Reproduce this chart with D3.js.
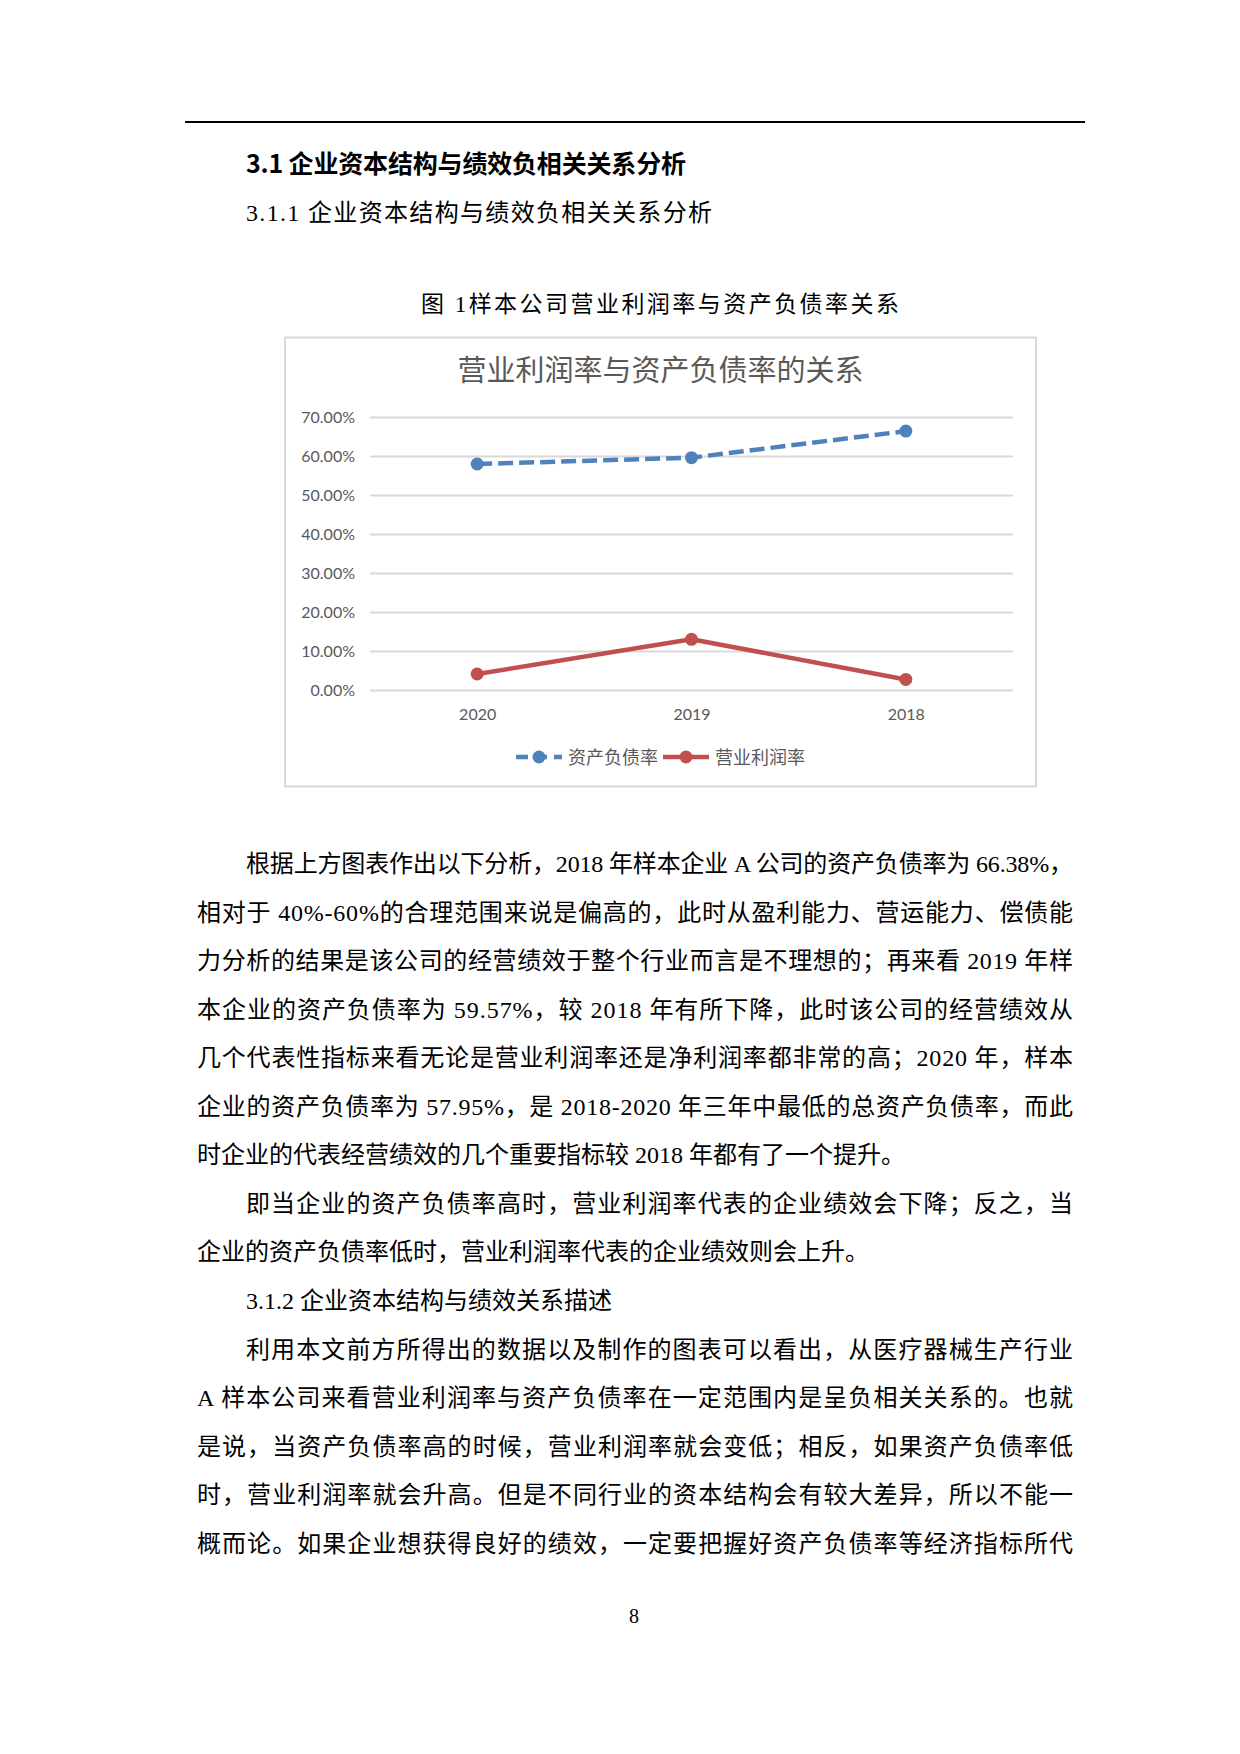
<!DOCTYPE html>
<html>
<head>
<meta charset="utf-8">
<script src="https://cdn.jsdelivr.net/npm/d3@7"></script>
<style>
  body { margin: 0; background: #fff; }
  svg { display: block; }
</style>
</head>
<body>
<div id="page"></div>
<script>
// chart data
const years = ["2020", "2019", "2018"];
const debtRatio = [0.5795, 0.5957, 0.6638];     // 资产负债率
const profitRatio = [0.041, 0.130, 0.027];      // 营业利润率
const seriesNames = ["资产负债率", "营业利润率"];
const yTicks = [0, 0.1, 0.2, 0.3, 0.4, 0.5, 0.6, 0.7];

const chartTitle = "营业利润率与资产负债率的关系";
const figCaption = "图  1样本公司营业利润率与资产负债率关系";

// page text lines: [text, indented, justified]
const bodyLines = [
  ["根据上方图表作出以下分析，2018 年样本企业 A 公司的资产负债率为 66.38%，", true, true],
  ["相对于 40%-60%的合理范围来说是偏高的，此时从盈利能力、营运能力、偿债能", false, true],
  ["力分析的结果是该公司的经营绩效于整个行业而言是不理想的；再来看 2019 年样", false, true],
  ["本企业的资产负债率为 59.57%，较 2018 年有所下降，此时该公司的经营绩效从", false, true],
  ["几个代表性指标来看无论是营业利润率还是净利润率都非常的高；2020 年，样本", false, true],
  ["企业的资产负债率为 57.95%，是 2018-2020 年三年中最低的总资产负债率，而此", false, true],
  ["时企业的代表经营绩效的几个重要指标较 2018 年都有了一个提升。", false, false],
  ["即当企业的资产负债率高时，营业利润率代表的企业绩效会下降；反之，当", true, true],
  ["企业的资产负债率低时，营业利润率代表的企业绩效则会上升。", false, false],
  ["3.1.2 企业资本结构与绩效关系描述", true, false],
  ["利用本文前方所得出的数据以及制作的图表可以看出，从医疗器械生产行业", true, true],
  ["A 样本公司来看营业利润率与资产负债率在一定范围内是呈负相关关系的。也就", false, true],
  ["是说，当资产负债率高的时候，营业利润率就会变低；相反，如果资产负债率低", false, true],
  ["时，营业利润率就会升高。但是不同行业的资本结构会有较大差异，所以不能一", false, true],
  ["概而论。如果企业想获得良好的绩效，一定要把握好资产负债率等经济指标所代", false, true]
];

const W = 1240, H = 1754;
const serif = "'Liberation Serif', 'Noto Sans CJK SC', serif";
const cjk = "'Noto Sans CJK SC', sans-serif";
const latinChart = "Lato, 'Noto Sans CJK SC', sans-serif";
const grey = "#595959";

const svg = d3.select("#page").append("svg")
  .attr("width", W)
  .attr("height", H);

svg.append("rect").attr("width", W).attr("height", H).attr("fill", "#fff");

// page header rule
svg.append("line")
  .attr("x1", 185).attr("x2", 1085)
  .attr("y1", 122).attr("y2", 122)
  .attr("stroke", "#000").attr("stroke-width", 2);

svg.append("text")
  .attr("x", 246).attr("y", 173)
  .attr("font-family", "'Liberation Sans Narrow', 'Noto Sans CJK SC', sans-serif")
  .attr("font-weight", "bold")
  .attr("font-size", 25)
  .attr("textLength", 440)
  .attr("lengthAdjust", "spacing")
  .text("3.1 企业资本结构与绩效负相关关系分析");

svg.append("text")
  .attr("x", 246).attr("y", 221)
  .attr("font-family", serif)
  .attr("font-size", 24)
  .attr("textLength", 466)
  .attr("lengthAdjust", "spacing")
  .text("3.1.1 企业资本结构与绩效负相关关系分析");

svg.append("text")
  .attr("x", 421).attr("y", 312)
  .attr("font-family", serif)
  .attr("font-size", 23)
  .attr("textLength", 478)
  .attr("lengthAdjust", "spacing")
  .text(figCaption);

// ---- chart ----
const box = { x: 285, y: 337.5, w: 751, h: 449 };
svg.append("rect")
  .attr("x", box.x).attr("y", box.y)
  .attr("width", box.w).attr("height", box.h)
  .attr("fill", "#fff")
  .attr("stroke", "#d9d9d9")
  .attr("stroke-width", 2);

svg.append("text")
  .attr("x", box.x + box.w / 2).attr("y", 381)
  .attr("text-anchor", "middle")
  .attr("font-family", cjk)
  .attr("font-size", 29)
  .attr("fill", grey)
  .text(chartTitle);

const plot = { left: 370, right: 1013, top: 417, bottom: 690 };

const x = d3.scalePoint()
  .domain(years)
  .range([plot.left, plot.right])
  .padding(0.5);

const y = d3.scaleLinear()
  .domain([0, 0.7])
  .range([plot.bottom, plot.top]);

// gridlines + y labels
const yAxis = svg.append("g")
  .attr("transform", `translate(${plot.left},0)`)
  .call(d3.axisLeft(y)
    .tickValues(yTicks)
    .tickFormat(d3.format(".2%"))
    .tickSize(-(plot.right - plot.left))
    .tickPadding(15));
yAxis.select(".domain").remove();
yAxis.selectAll(".tick line")
  .attr("stroke", "#d9d9d9")
  .attr("stroke-width", 2);
yAxis.selectAll(".tick text")
  .attr("font-family", latinChart)
  .attr("font-size", 16)
  .attr("fill", grey);

// x labels
const xAxis = svg.append("g")
  .attr("transform", `translate(0,${plot.bottom})`)
  .call(d3.axisBottom(x).tickSize(0).tickPadding(19));
xAxis.select(".domain").remove();
xAxis.selectAll(".tick text")
  .attr("font-family", latinChart)
  .attr("font-size", 16)
  .attr("fill", grey);

const line = d3.line()
  .x((d, i) => x(years[i]))
  .y(d => y(d));

const series = [
  { name: seriesNames[0], values: debtRatio, color: "#4f81bd", dash: "15,6" },
  { name: seriesNames[1], values: profitRatio, color: "#c0504d", dash: null }
];

series.forEach(s => {
  svg.append("path")
    .datum(s.values)
    .attr("d", line)
    .attr("fill", "none")
    .attr("stroke", s.color)
    .attr("stroke-width", 4.5)
    .attr("stroke-dasharray", s.dash)
    .attr("stroke-linejoin", "round");

  svg.selectAll(null)
    .data(s.values)
    .enter()
    .append("circle")
    .attr("cx", (d, i) => x(years[i]))
    .attr("cy", d => y(d))
    .attr("r", 6.5)
    .attr("fill", s.color);
});

// legend
const legend = svg.append("g");
let lx = 0;
series.forEach(s => {
  const g = legend.append("g").attr("transform", `translate(${lx},0)`);
  g.append("line")
    .attr("x1", 0).attr("x2", 46)
    .attr("y1", 0).attr("y2", 0)
    .attr("stroke", s.color)
    .attr("stroke-width", 4.5)
    .attr("stroke-dasharray", s.dash ? "12,7" : null);
  g.append("circle")
    .attr("cx", 23).attr("cy", 0).attr("r", 6.5)
    .attr("fill", s.color);
  const t = g.append("text")
    .attr("x", 52).attr("y", 6.5)
    .attr("font-family", cjk)
    .attr("font-size", 18)
    .attr("fill", grey)
    .text(s.name);
  lx += 52 + t.node().getComputedTextLength() + 5;
});
legend.attr("transform", `translate(${box.x + box.w / 2 - (lx - 5) / 2},757)`);

// ---- body text ----
const textLeft = 197, textRight = 1073, indent = 49;
svg.selectAll(".body-line")
  .data(bodyLines)
  .enter()
  .append("text")
  .attr("class", "body-line")
  .attr("x", d => d[1] ? textLeft + indent : textLeft)
  .attr("y", (d, i) => 872 + i * 48.55)
  .attr("font-family", serif)
  .attr("font-size", 24)
  .attr("fill", "#000")
  .each(function (d) {
    if (d[2]) {
      d3.select(this)
        .attr("textLength", textRight - (d[1] ? textLeft + indent : textLeft))
        .attr("lengthAdjust", "spacing");
    }
  })
  .text(d => d[0]);

svg.append("text")
  .attr("x", 634).attr("y", 1623)
  .attr("text-anchor", "middle")
  .attr("font-family", serif)
  .attr("font-size", 20)
  .text("8");
</script>
</body>
</html>
